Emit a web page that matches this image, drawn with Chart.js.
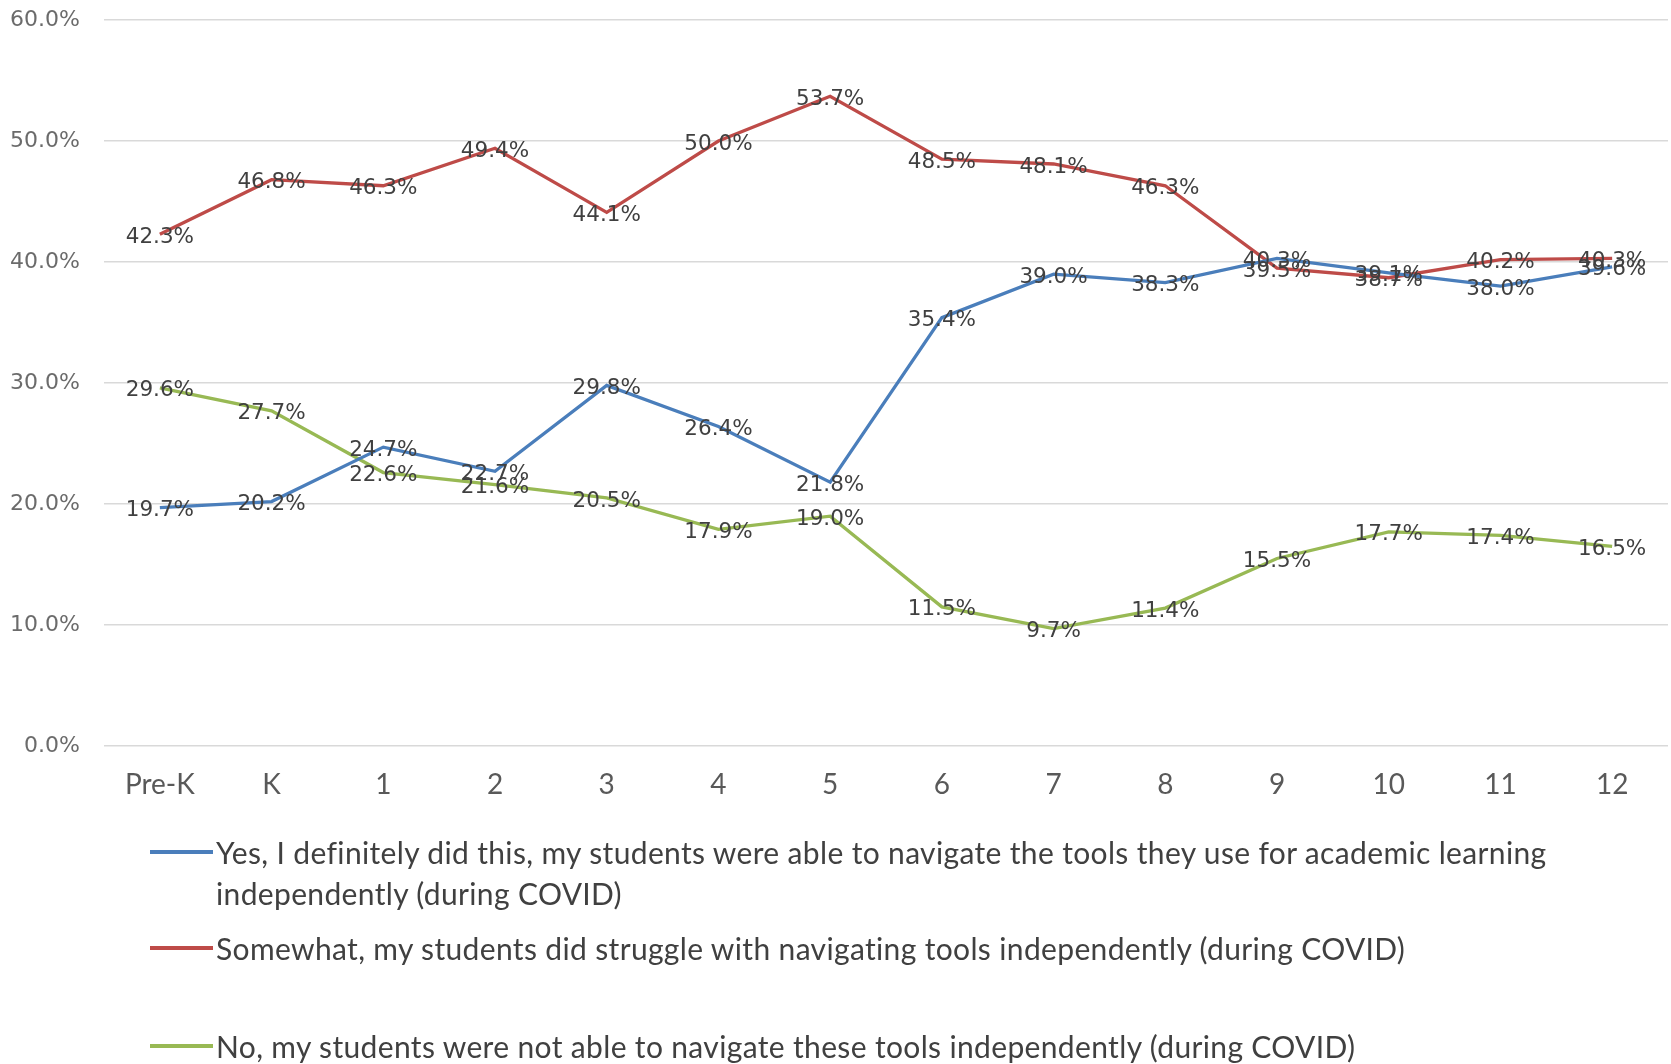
<!DOCTYPE html>
<html>
<head>
<meta charset="utf-8">
<script src="https://cdn.jsdelivr.net/npm/chart.js@4/dist/chart.umd.min.js"></script>
<style>
  html, body { margin: 0; padding: 0; background: #fff; }
  #wrap { position: relative; width: 1671px; height: 1064px; overflow: hidden; }
  #chart { position: absolute; left: 0; top: 0; }
  .leg { position: absolute; left: 150px; font-family: Lato, sans-serif; font-size: 30px; letter-spacing: 0.35px; color: #404040; line-height: 41px; }
  .leg .mark { position: absolute; left: 0; top: 18px; width: 63px; height: 4px; }
  .leg .txt { margin-left: 66px; width: 1380px; }
</style>
</head>
<body>
<div id="wrap">
  <canvas id="chart" width="1671" height="1064"></canvas>
  <div id="legend"></div>
</div>
<script>
const grades = ['Pre-K', 'K', '1', '2', '3', '4', '5', '6', '7', '8', '9', '10', '11', '12'];
const yesValues = [19.7, 20.2, 24.7, 22.7, 29.8, 26.4, 21.8, 35.4, 39.0, 38.3, 40.3, 39.1, 38.0, 39.6];
const somewhatValues = [42.3, 46.8, 46.3, 49.4, 44.1, 50.0, 53.7, 48.5, 48.1, 46.3, 39.5, 38.7, 40.2, 40.3];
const noValues = [29.6, 27.7, 22.6, 21.6, 20.5, 17.9, 19.0, 11.5, 9.7, 11.4, 15.5, 17.7, 17.4, 16.5];
const seriesNames = [
    'Yes, I definitely did this, my students were able to navigate the tools they use for academic learning independently (during COVID)',
    'Somewhat, my students did struggle with navigating tools independently (during COVID)',
    'No, my students were not able to navigate these tools independently (during COVID)'
];
const seriesColors = ['#4a7ebb', '#be4b48', '#98b954'];
const legendTops = [832, 928, 1026];

// labels drawn on each point, centred like Excel's "Center" option
const pointLabels = {
    id: 'pointLabels',
    afterDatasetsDraw(chart) {
        const c = chart.ctx;
        c.save();
        c.font = '21.5px "DejaVu Sans"';
        c.fillStyle = '#404040';
        c.textAlign = 'center';
        c.textBaseline = 'middle';
        chart.data.datasets.forEach((ds, i) => {
            chart.getDatasetMeta(i).data.forEach((pt, j) => {
                c.fillText(ds.data[j].toFixed(1) + '%', pt.x, pt.y + 3);
            });
        });
        c.restore();
    }
};

const datasets = [yesValues, somewhatValues, noValues].map((vals, i) => ({
    label: seriesNames[i],
    data: vals,
    borderColor: seriesColors[i],
    backgroundColor: seriesColors[i],
    borderWidth: 3.3,
    pointRadius: 0,
    tension: 0
}));

new Chart(document.getElementById('chart'), {
    type: 'line',
    data: { labels: grades, datasets: datasets },
    options: {
        responsive: false,
        animation: false,
        layout: { padding: { top: 20, right: 3, bottom: 238, left: 0 } },
        plugins: { legend: { display: false }, tooltip: { enabled: false } },
        scales: {
            y: {
                min: 0,
                max: 60,
                ticks: {
                    stepSize: 10,
                    padding: 24,
                    color: '#6b6b6b',
                    font: { family: 'DejaVu Sans', size: 22 },
                    callback: v => v.toFixed(1) + '%'
                },
                grid: { color: '#d9d9d9', lineWidth: 1.5, drawTicks: false },
                border: { display: false },
                afterFit: s => { s.width = 104; s.paddingTop = 0; s.paddingBottom = 0; }
            },
            x: {
                offset: true,
                ticks: {
                    padding: 22,
                    color: '#595959',
                    font: { family: 'Lato', size: 28 }
                },
                grid: { display: false, drawTicks: false, offset: true },
                border: { display: false },
                afterFit: s => { s.height = 80; s.paddingLeft = 0; s.paddingRight = 0; }
            }
        }
    },
    plugins: [pointLabels]
});

const legend = document.getElementById('legend');
seriesNames.forEach((name, i) => {
    const item = document.createElement('div');
    item.className = 'leg';
    item.style.top = legendTops[i] + 'px';
    const mark = document.createElement('div');
    mark.className = 'mark';
    mark.style.background = seriesColors[i];
    const txt = document.createElement('div');
    txt.className = 'txt';
    txt.textContent = name;
    item.appendChild(mark);
    item.appendChild(txt);
    legend.appendChild(item);
});
</script>
</body>
</html>
